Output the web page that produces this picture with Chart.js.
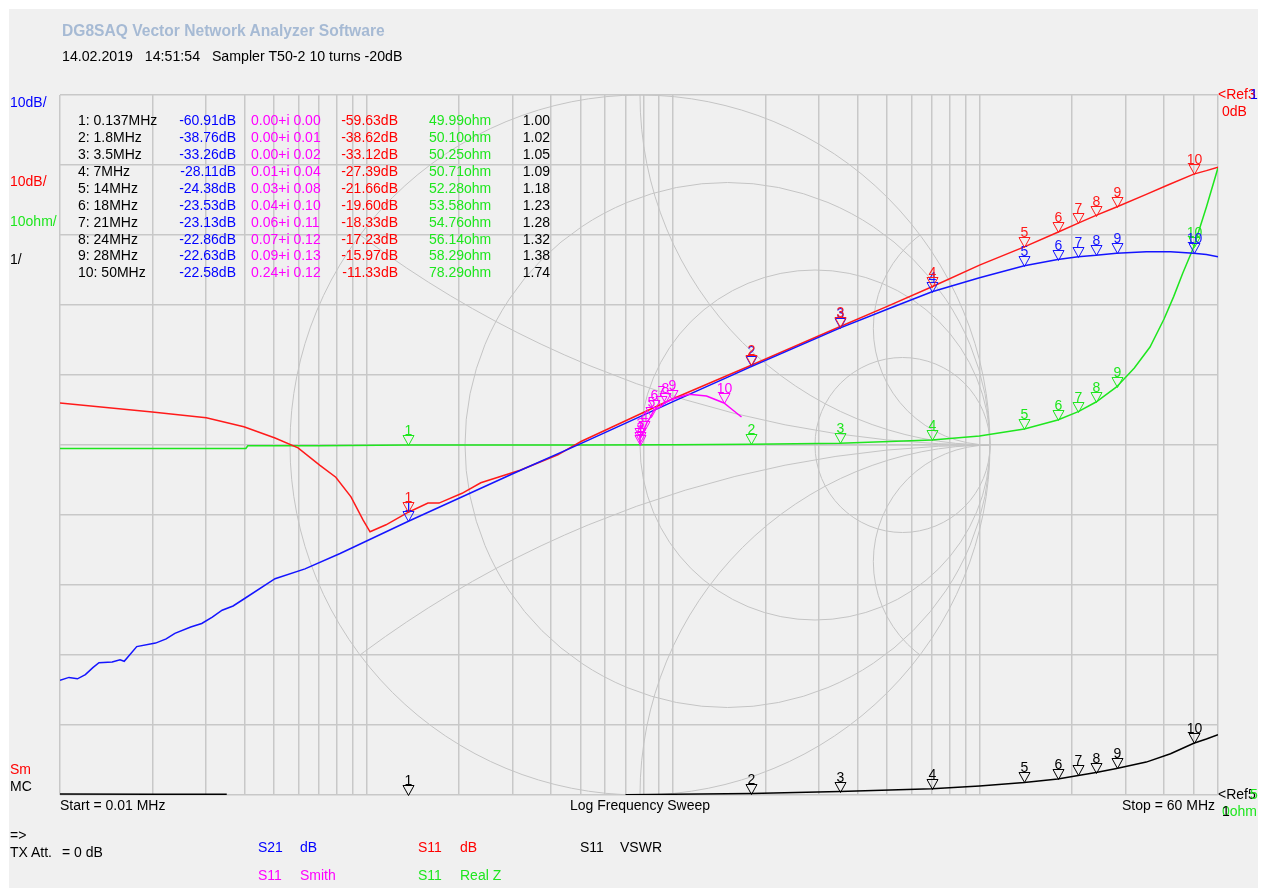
<!DOCTYPE html>
<html>
<head>
<meta charset="utf-8">
<title>DG8SAQ VNWA</title>
<script src="https://cdn.jsdelivr.net/npm/chart.js@4.4.1/dist/chart.umd.min.js"></script>
<style>
  html, body { margin: 0; padding: 0; background: #fff; }
  #panel { position: absolute; left: 9px; top: 9px; width: 1249px; height: 879px; background: #f0f0f0; }
  #plot { position: absolute; left: 0; top: 0; }
  .t { position: absolute; font-family: "Liberation Sans", Arial, sans-serif; font-size: 14px; line-height: 17px; white-space: pre; }
  .r { text-align: right; width: 120px; }
</style>
</head>
<body>
<div id="panel"></div>
<canvas id="plot" width="1268" height="895"></canvas>

<div class="t" style="left:62px;top:22px;color:#a6bad4;font-weight:bold;font-size:15.6px;">DG8SAQ Vector Network Analyzer Software</div>
<div class="t" style="left:62px;top:48px;color:#000;font-size:14.2px;">14.02.2019   14:51:54   Sampler T50-2 10 turns -20dB</div>

<div class="t" style="left:10px;top:94px;color:#0000ff;">10dB/</div>
<div class="t" style="left:10px;top:173px;color:#ff0000;">10dB/</div>
<div class="t" style="left:10px;top:213px;color:#1ee61e;">10ohm/</div>
<div class="t" style="left:10px;top:251px;color:#000;">1/</div>
<div class="t" style="left:10px;top:761px;color:#ff0000;">Sm</div>
<div class="t" style="left:10px;top:778px;color:#000;">MC</div>

<div class="t" style="left:1218px;top:86px;color:#ff0000;">&lt;Ref3</div>
<div class="t" style="left:1250px;top:86px;color:#0000ff;">1</div>
<div class="t" style="left:1222px;top:103px;color:#ff0000;">0dB</div>
<div class="t" style="left:1218px;top:786px;color:#000;">&lt;Ref5</div>
<div class="t" style="left:1250px;top:786px;color:#1ee61e;">5</div>
<div class="t" style="left:1222px;top:803px;color:#1ee61e;">0ohm</div>
<div class="t" style="left:1222px;top:803px;color:#000;">1</div>

<div class="t" style="left:60px;top:797px;color:#000;">Start = 0.01 MHz</div>
<div class="t" style="left:570px;top:797px;color:#000;">Log Frequency Sweep</div>
<div class="t r" style="left:1095px;top:797px;color:#000;">Stop = 60 MHz</div>

<div class="t" style="left:10px;top:827px;color:#000;">=&gt;</div>
<div class="t" style="left:10px;top:844px;color:#000;">TX Att.</div>
<div class="t" style="left:62px;top:844px;color:#000;">= 0 dB</div>

<div class="t" style="left:258px;top:839px;color:#0000ff;">S21</div>
<div class="t" style="left:300px;top:839px;color:#0000ff;">dB</div>
<div class="t" style="left:418px;top:839px;color:#ff0000;">S11</div>
<div class="t" style="left:460px;top:839px;color:#ff0000;">dB</div>
<div class="t" style="left:580px;top:839px;color:#000;">S11</div>
<div class="t" style="left:620px;top:839px;color:#000;">VSWR</div>
<div class="t" style="left:258px;top:867px;color:#ff00ff;">S11</div>
<div class="t" style="left:300px;top:867px;color:#ff00ff;">Smith</div>
<div class="t" style="left:418px;top:867px;color:#1ee61e;">S11</div>
<div class="t" style="left:460px;top:867px;color:#1ee61e;">Real Z</div>

<div id="table"></div>

<script>
// trace colours
const BLUE = '#1414ff', RED = '#ff1a1a', GREEN = '#1ee61e', MAGENTA = '#ff00ff', BLACK = '#000000';
const GRID = '#c8c8c8', SMITH_GRID = '#c4c4c4';

// S21 transmission, dB
const s21Freq = [0.01, 0.0107, 0.0114, 0.0121, 0.0128, 0.0134, 0.0148, 0.0157, 0.0162, 0.0178, 0.0205, 0.0222,
                 0.0237, 0.0267, 0.029, 0.0314, 0.0338, 0.0367, 0.0398, 0.0503, 0.063, 0.082, 0.137, 0.3, 0.5,
                 1.0, 1.8, 3.5, 5, 7, 10, 14, 18, 21, 24, 28, 35, 42, 50, 55, 60];
const s21Db = [-83.6, -83.2, -83.4, -82.8, -81.8, -81.1, -81.0, -80.7, -80.9, -78.8, -78.3, -77.7,
               -76.9, -76.0, -75.5, -74.6, -73.6, -73.0, -72.0, -69.1, -67.7, -65.5, -60.9, -54.1, -49.8,
               -43.8, -38.8, -33.3, -30.6, -28.1, -26.1, -24.4, -23.5, -23.1, -22.9, -22.6, -22.4, -22.4, -22.6, -22.8, -23.1];

// S11 return loss, dB
const s11Freq = [0.01, 0.02, 0.03, 0.0398, 0.0503, 0.0598, 0.0705, 0.0794, 0.089, 0.0974, 0.1027, 0.1158, 0.137,
                 0.1587, 0.1724, 0.205, 0.236, 0.317, 0.421, 0.501, 1.0, 1.8, 3.5, 5, 7, 10, 14, 18, 21, 24, 28,
                 35, 41, 50, 55, 60];
const s11Db = [-44.0, -45.3, -46.1, -47.4, -49.0, -50.4, -52.9, -54.6, -57.4, -60.7, -62.4, -61.4, -59.6,
               -58.3, -58.3, -56.9, -55.4, -53.6, -51.4, -49.5, -43.4, -38.6, -33.1, -30.2, -27.4, -24.3, -21.7,
               -19.6, -18.3, -17.2, -16.0, -14.2, -12.9, -11.3, -10.8, -10.3];

// S11 real part of impedance, ohm
const zFreq = [0.01, 0.0404, 0.041, 0.07, 0.137, 0.5, 1.0, 1.8, 3.5, 7, 10, 14, 18, 21, 24, 28, 32, 36, 40, 43, 46, 50, 55, 60];
const zOhm = [49.5, 49.5, 49.9, 49.9, 49.99, 50.0, 50.05, 50.10, 50.25, 50.71, 51.3, 52.28, 53.58, 54.76, 56.14,
              58.29, 61.0, 64.0, 68.0, 71.2, 74.5, 78.29, 84.0, 89.6];

// S11 VSWR (trace not shown between 0.036 and 0.69 MHz)
const vswrFreq = [0.01, 0.02, 0.035, 0.036, 0.69, 0.7, 1.8, 3.5, 7, 10, 14, 18, 21, 24, 28, 35, 42, 50, 55, 60];
const vswr = [1.013, 1.011, 1.009, null, null, 1.005, 1.02, 1.05, 1.09, 1.13, 1.18, 1.23, 1.28, 1.32, 1.38,
              1.47, 1.59, 1.74, 1.80, 1.86];

// S11 reflection coefficient for the Smith chart
const smithRe = [0.00, 0.00, 0.00, 0.005, 0.01, 0.02, 0.03, 0.04, 0.06, 0.07, 0.09, 0.14, 0.19, 0.24, 0.265, 0.29];
const smithIm = [0.00, 0.01, 0.02, 0.03, 0.04, 0.065, 0.08, 0.10, 0.11, 0.12, 0.13, 0.145, 0.14, 0.12, 0.10, 0.08];

// markers 1..10
const markerFreq = [0.137, 1.8, 3.5, 7, 14, 18, 21, 24, 28, 50];
const markerS21 = [-60.91, -38.76, -33.26, -28.11, -24.38, -23.53, -23.13, -22.86, -22.63, -22.58];
const markerRe = [0.00, 0.00, 0.00, 0.01, 0.03, 0.04, 0.06, 0.07, 0.09, 0.24];
const markerIm = [0.00, 0.01, 0.02, 0.04, 0.08, 0.10, 0.11, 0.12, 0.13, 0.12];
const markerS11 = [-59.63, -38.62, -33.12, -27.39, -21.66, -19.60, -18.33, -17.23, -15.97, -11.33];
const markerZ = [49.99, 50.10, 50.25, 50.71, 52.28, 53.58, 54.76, 56.14, 58.29, 78.29];
const markerVswr = [1.00, 1.02, 1.05, 1.09, 1.18, 1.23, 1.28, 1.32, 1.38, 1.74];

// log grid: 1..9 per decade up to the stop frequency
const gridFreqs = [];
[0.01, 0.1, 1, 10].forEach(d => {
  for (let k = 1; k <= 9; k++) {
    const v = +(k * d).toPrecision(3);
    if (v <= 60) gridFreqs.push(v);
  }
});

const pts = (xs, ys) => xs.map((x, i) => ({ x: x, y: ys[i] }));

// marker table
const table = document.getElementById('table');
function cell(text, x, y, color, right) {
  const d = document.createElement('div');
  d.className = right ? 't r' : 't';
  d.style.left = (right ? x - 120 : x) + 'px';
  d.style.top = (y - 8.5) + 'px';
  d.style.color = color;
  d.textContent = text;
  table.appendChild(d);
}
markerFreq.forEach((f, i) => {
  const y = 120.7 + i * 16.9;
  cell((i + 1) + ': ' + f + 'MHz', 78, y, '#000', false);
  cell(markerS21[i].toFixed(2) + 'dB', 236, y, '#0000ff', true);
  cell(markerRe[i].toFixed(2) + '+i ' + markerIm[i].toFixed(2), 251, y, '#ff00ff', false);
  cell(markerS11[i].toFixed(2) + 'dB', 398, y, '#ff0000', true);
  cell(markerZ[i].toFixed(2) + 'ohm', 429, y, '#1ee61e', false);
  cell(markerVswr[i].toFixed(2), 550, y, '#000', true);
});

// Smith chart grid drawn in reflection-coefficient coordinates
const smithGrid = {
  id: 'smithGrid',
  beforeDatasetsDraw(chart) {
    const { ctx, chartArea, scales } = chart;
    const sx = scales.sx, sy = scales.sy;
    const px = v => sx.getPixelForValue(v);
    const py = v => sy.getPixelForValue(v);
    const unit = px(1) - px(0);
    ctx.save();
    ctx.beginPath();
    ctx.rect(chartArea.left, chartArea.top, chartArea.right - chartArea.left, chartArea.bottom - chartArea.top);
    ctx.clip();
    ctx.strokeStyle = SMITH_GRID;
    ctx.lineWidth = 1;
    const circle = (cx, cy, r) => {
      ctx.beginPath();
      ctx.arc(px(cx), py(cy), r * unit, 0, Math.PI * 2);
      ctx.stroke();
    };
    circle(0, 0, 1);
    [1 / 3, 1, 3].forEach(r => circle(r / (1 + r), 0, 1 / (1 + r)));
    ctx.beginPath();
    ctx.arc(px(0), py(0), unit, 0, Math.PI * 2);
    ctx.clip();
    [1 / 3, 1, 3, -1 / 3, -1, -3].forEach(x => circle(1, 1 / x, 1 / Math.abs(x)));
    ctx.beginPath();
    ctx.moveTo(px(-1), py(0));
    ctx.lineTo(px(1), py(0));
    ctx.stroke();
    ctx.restore();
  }
};

// marker triangles with their numbers
const markers = {
  id: 'markers',
  afterDatasetsDraw(chart) {
    const { ctx, scales } = chart;
    const sets = [
      { xs: markerFreq, ys: markerVswr, x: 'x', y: 'yV', color: BLACK },
      { xs: markerFreq, ys: markerZ, x: 'x', y: 'yZ', color: GREEN },
      { xs: markerRe, ys: markerIm, x: 'sx', y: 'sy', color: MAGENTA },
      { xs: markerFreq, ys: markerS21, x: 'x', y: 'y', color: BLUE },
      { xs: markerFreq, ys: markerS11, x: 'x', y: 'y', color: RED }
    ];
    ctx.save();
    ctx.lineWidth = 1;
    ctx.font = '14px "Liberation Sans", Arial, sans-serif';
    ctx.textAlign = 'center';
    ctx.textBaseline = 'alphabetic';
    sets.forEach(s => {
      ctx.strokeStyle = s.color;
      ctx.fillStyle = s.color;
      s.xs.forEach((v, i) => {
        const x = Math.round(scales[s.x].getPixelForValue(v)) + 0.5;
        const y = Math.round(scales[s.y].getPixelForValue(s.ys[i])) + 0.5;
        ctx.beginPath();
        ctx.moveTo(x - 5.5, y - 10);
        ctx.lineTo(x + 5.5, y - 10);
        ctx.lineTo(x, y);
        ctx.closePath();
        ctx.stroke();
        ctx.fillText(String(i + 1), x, y - 11);
      });
    });
    ctx.restore();
  }
};

const line = (label, data, color, xAxisID, yAxisID) => ({
  label, data, xAxisID, yAxisID,
  borderColor: color, borderWidth: 1.5, pointRadius: 0, tension: 0, fill: false, spanGaps: false
});

new Chart(document.getElementById('plot').getContext('2d'), {
  type: 'line',
  data: {
    datasets: [
      line('S11 Smith', pts(smithRe, smithIm), MAGENTA, 'sx', 'sy'),
      line('S21 dB', pts(s21Freq, s21Db), BLUE, 'x', 'y'),
      line('S11 dB', pts(s11Freq, s11Db), RED, 'x', 'y'),
      line('S11 Real Z', pts(zFreq, zOhm), GREEN, 'x', 'yZ'),
      line('S11 VSWR', pts(vswrFreq, vswr), BLACK, 'x', 'yV')
    ]
  },
  options: {
    responsive: false,
    animation: false,
    events: [],
    layout: { padding: { left: 60, top: 95, right: 50, bottom: 100 } },
    plugins: { legend: { display: false }, tooltip: { enabled: false } },
    scales: {
      x: {
        type: 'logarithmic', min: 0.01, max: 60,
        afterBuildTicks: s => { s.ticks = gridFreqs.map(v => ({ value: v })); },
        afterFit: s => { s.height = 0; },
        ticks: { display: false },
        grid: { color: GRID, lineWidth: 1.5, drawTicks: false },
        border: { display: false }
      },
      y: {
        type: 'linear', min: -100, max: 0,
        afterFit: s => { s.width = 0; },
        ticks: { display: false, stepSize: 10 },
        grid: { color: GRID, lineWidth: 1.5, drawTicks: false },
        border: { display: false }
      },
      yZ: { type: 'linear', min: 0, max: 100, display: false },
      yV: { type: 'linear', min: 1, max: 11, display: false },
      sx: { type: 'linear', min: -580 / 350, max: 578 / 350, display: false },
      sy: { type: 'linear', min: -1, max: 1, display: false }
    }
  },
  plugins: [smithGrid, markers]
});
</script>
</body>
</html>
